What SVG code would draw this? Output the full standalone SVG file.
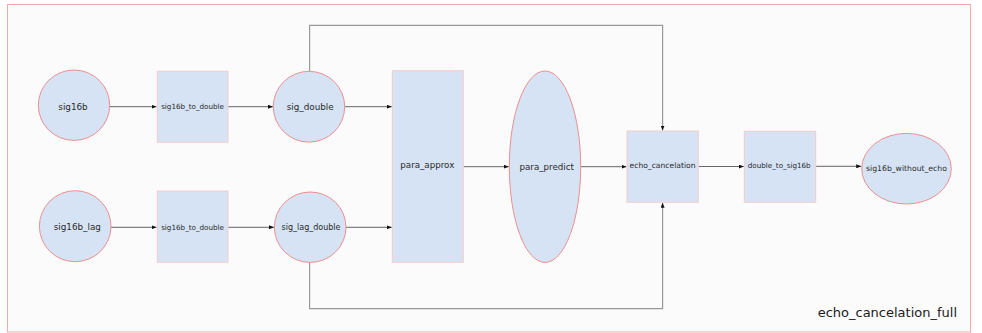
<svg xmlns="http://www.w3.org/2000/svg" width="982" height="333" viewBox="0 0 982 333">
  <style>
    .frame { fill: #fbfbfb; stroke: #f4aaaa; stroke-width: 1; }
    .blob { fill: #d6e3f4; stroke: #ee8e8e; stroke-width: 1; }
    .box { fill: #d6e3f4; stroke: #f6cccc; stroke-width: 1; }
    .lbl { font-family: "DejaVu Sans", Verdana, sans-serif; fill: #2a2a2a; text-anchor: middle; dominant-baseline: central; }
    .wire { fill: none; stroke: #666; stroke-width: 1; }
    .route { fill: none; stroke: #999; stroke-width: 1.2; }
    .title { font-family: "DejaVu Sans", Verdana, sans-serif; fill: #1a1a1a; font-size: 13px; text-anchor: end; }
  </style>
  <defs>
    <marker id="tip" viewBox="0 0 5 4" refX="5" refY="2" markerWidth="5" markerHeight="4" markerUnits="userSpaceOnUse" orient="auto">
      <path d="M0,0 L5,2 L0,4 Z" fill="#111"/>
    </marker>
  </defs>

  <!-- enclosing subsystem frame -->
  <rect class="frame" x="7.5" y="4.5" width="963" height="327.5"/>
  <text class="title" x="957" y="317">echo_cancelation_full</text>

  <!-- connectors -->
  <g id="connectors">
    <path class="wire" d="M110,106.7 H156.5" marker-end="url(#tip)"/>
    <path class="wire" d="M228,106.7 H273" marker-end="url(#tip)"/>
    <path class="wire" d="M345,106.7 H391.8" marker-end="url(#tip)"/>
    <path class="wire" d="M111,227.3 H156.5" marker-end="url(#tip)"/>
    <path class="wire" d="M228,227.3 H274" marker-end="url(#tip)"/>
    <path class="wire" d="M346,227.3 H391.8" marker-end="url(#tip)"/>
    <path class="wire" d="M463.3,166.7 H508.8" marker-end="url(#tip)"/>
    <path class="wire" d="M580.7,166.7 H626.5" marker-end="url(#tip)"/>
    <path class="wire" d="M698.3,166.5 H743.8" marker-end="url(#tip)"/>
    <path class="wire" d="M815.7,166.3 H861.2" marker-end="url(#tip)"/>
    <path class="route" d="M309.6,71.3 V25.3 H662.6 V130.5" marker-end="url(#tip)"/>
    <path class="route" d="M309.6,262.3 V308.7 H662.6 V202.8" marker-end="url(#tip)"/>
  </g>

  <!-- nodes -->
  <g id="sig16b">
    <ellipse class="blob" cx="74" cy="105.2" rx="35.7" ry="35.2"/>
    <text class="lbl" x="73" y="106.5" font-size="8.8">sig16b</text>
  </g>
  <g id="sig16b_lag">
    <ellipse class="blob" cx="75.2" cy="226.2" rx="35.8" ry="35.5"/>
    <text class="lbl" x="77.3" y="226.5" font-size="8.8">sig16b_lag</text>
  </g>
  <g id="sig16b_to_double_1">
    <rect class="box" x="157.3" y="71.3" width="70.7" height="71"/>
    <text class="lbl" x="192.6" y="106.7" font-size="7.2">sig16b_to_double</text>
  </g>
  <g id="sig16b_to_double_2">
    <rect class="box" x="157.3" y="191" width="70.7" height="71.3"/>
    <text class="lbl" x="192.6" y="227.3" font-size="7.2">sig16b_to_double</text>
  </g>
  <g id="sig_double">
    <ellipse class="blob" cx="309" cy="106.7" rx="35.7" ry="35.4"/>
    <text class="lbl" x="310.2" y="106.7" font-size="8.8">sig_double</text>
  </g>
  <g id="sig_lag_double">
    <ellipse class="blob" cx="310.2" cy="227.2" rx="35.8" ry="35.2"/>
    <text class="lbl" x="311" y="227.2" font-size="8">sig_lag_double</text>
  </g>
  <g id="para_approx">
    <rect class="box" x="392.3" y="70.7" width="71" height="191.6"/>
    <text class="lbl" x="427.3" y="165" font-size="8.7">para_approx</text>
  </g>
  <g id="para_predict">
    <ellipse class="blob" cx="545" cy="166.7" rx="35.7" ry="95.7"/>
    <text class="lbl" x="546.7" y="166.7" font-size="8.7">para_predict</text>
  </g>
  <g id="echo_cancelation">
    <rect class="box" x="627" y="131" width="71.3" height="71.3"/>
    <text class="lbl" x="662.5" y="165.7" font-size="7.6">echo_cancelation</text>
  </g>
  <g id="double_to_sig16b">
    <rect class="box" x="744.3" y="131.3" width="71.4" height="71"/>
    <text class="lbl" x="779.2" y="165" font-size="7.2">double_to_sig16b</text>
  </g>
  <g id="sig16b_without_echo">
    <ellipse class="blob" cx="906.5" cy="168.7" rx="44.8" ry="35.3"/>
    <text class="lbl" x="906.5" y="168" font-size="7.7">sig16b_without_echo</text>
  </g>
</svg>
